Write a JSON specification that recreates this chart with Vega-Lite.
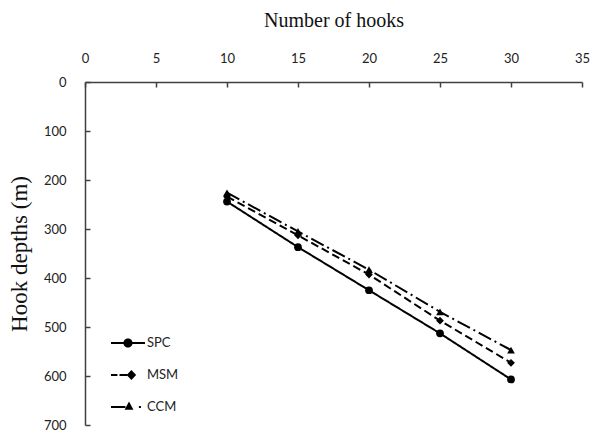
{
  "$schema": "https://vega.github.io/schema/vega-lite/v6.json",
  "autosize": "none",
  "padding": {"left": 85, "top": 82, "right": 11, "bottom": 8},
  "width": 497,
  "height": 343,
  "background": "white",
  "config": {
    "view": {"stroke": null},
    "axis": {
      "grid": false,
      "domainColor": "#404040",
      "domainWidth": 1.5,
      "tickColor": "#404040",
      "tickWidth": 1.5,
      "tickSize": -5,
      "labelFont": "Lato",
      "labelFontSize": 13,
      "labelColor": "#222",
      "titleFont": "Liberation Serif",
      "titleFontWeight": "normal",
      "titleColor": "#111"
    }
  },
  "data": {
    "values": [
      {"n": 10, "depth": 244, "method": "SPC"},
      {"n": 15, "depth": 337, "method": "SPC"},
      {"n": 20, "depth": 425, "method": "SPC"},
      {"n": 25, "depth": 513, "method": "SPC"},
      {"n": 30, "depth": 607, "method": "SPC"},
      {"n": 10, "depth": 234, "method": "MSM"},
      {"n": 15, "depth": 313, "method": "MSM"},
      {"n": 20, "depth": 393, "method": "MSM"},
      {"n": 25, "depth": 487, "method": "MSM"},
      {"n": 30, "depth": 573, "method": "MSM"},
      {"n": 10, "depth": 226, "method": "CCM"},
      {"n": 15, "depth": 305, "method": "CCM"},
      {"n": 20, "depth": 383, "method": "CCM"},
      {"n": 25, "depth": 469, "method": "CCM"},
      {"n": 30, "depth": 547, "method": "CCM"}
    ]
  },
  "encoding": {
    "x": {
      "field": "n", "type": "quantitative",
      "scale": {"domain": [0, 35], "nice": false},
      "axis": {"orient": "top", "values": [0, 5, 10, 15, 20, 25, 30, 35], "title": "Number of hooks", "titleFontSize": 20, "labelPadding": 22, "titlePadding": 22, "labelFlush": false}
    },
    "y": {
      "field": "depth", "type": "quantitative",
      "scale": {"domain": [0, 700], "reverse": true, "nice": false},
      "axis": {"values": [0, 100, 200, 300, 400, 500, 600, 700], "title": "Hook depths (m)", "titleFontSize": 23, "labelPadding": 24, "titlePadding": 12, "labelFlush": false}
    }
  },
  "layer": [
    {
      "mark": {"type": "line", "color": "black", "strokeWidth": 2},
      "encoding": {
        "detail": {"field": "method"},
        "strokeDash": {
          "field": "method", "type": "nominal",
          "scale": {"domain": ["SPC", "MSM", "CCM"], "range": [[1, 0], [8, 4], [14, 4, 2, 4]]},
          "legend": null
        }
      }
    },
    {
      "mark": {"type": "point", "filled": true, "color": "black", "opacity": 1, "size": 60},
      "encoding": {
        "shape": {
          "field": "method", "type": "nominal",
          "scale": {"domain": ["SPC", "MSM", "CCM"], "range": ["circle", "diamond", "triangle-up"]},
          "legend": null
        }
      }
    },
    {
      "transform": [{"filter": "datum.n > 1000"}],
      "mark": {"type": "point", "filled": true, "color": "black", "opacity": 1},
      "encoding": {
        "shape": {
          "field": "method", "type": "nominal", "title": null,
          "scale": {
            "domain": ["SPC", "MSM", "CCM"],
            "range": [
              "M-1,-0.06H-0.2V0.06H-1Z M0.2,-0.06H1V0.06H0.2Z M-0.27,0A0.27,0.27 0 1 1 0.27,0A0.27,0.27 0 1 1 -0.27,0Z",
              "M-1,-0.06H-0.62V0.06H-1Z M-0.5,-0.06H-0.05V0.06H-0.5Z M0.2,-0.3L0.48,0L0.2,0.3L-0.08,0Z",
              "M-1,-0.06H-0.15V0.06H-1Z M0.06,-0.32L0.32,0.16L-0.2,0.16Z M0.64,-0.06H0.76V0.06H0.64Z"
            ]
          },
          "legend": {
            "orient": "none",
            "legendX": 26,
            "legendY": 244,
            "symbolSize": 1156,
            "symbolFillColor": "black",
            "symbolStrokeWidth": 0,
            "symbolOpacity": 1,
            "labelFont": "Lato",
            "labelFontSize": 13,
            "labelColor": "#222",
            "labelOffset": 2,
            "rowPadding": 8
          }
        }
      }
    }
  ],
  "resolve": {"scale": {"shape": "independent"}, "legend": {"shape": "independent"}}
}
